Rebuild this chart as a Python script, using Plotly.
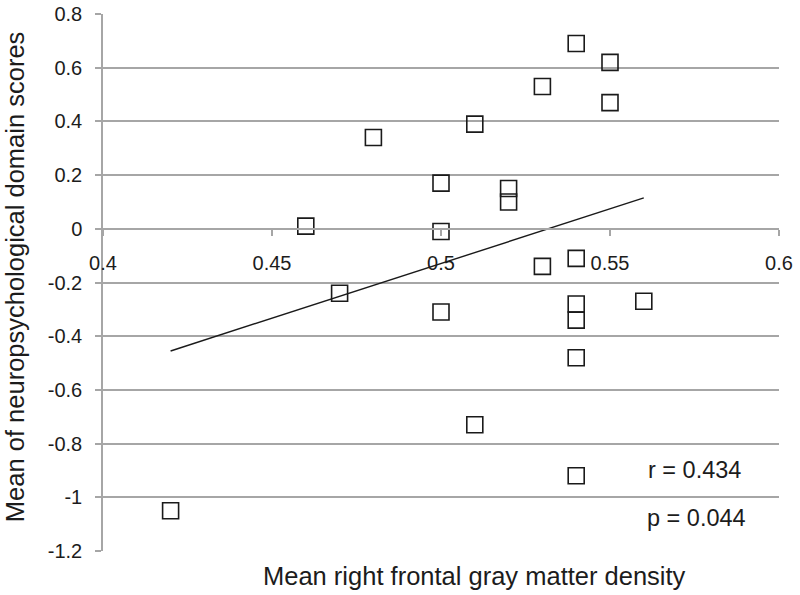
import plotly.graph_objects as go

# Data
density = [0.48, 0.46, 0.47, 0.54, 0.55, 0.53, 0.55, 0.51, 0.50, 0.52, 0.52,
           0.50, 0.53, 0.54, 0.54, 0.54, 0.56, 0.50, 0.54, 0.51, 0.54, 0.42]
scores = [0.34, 0.01, -0.24, 0.69, 0.62, 0.53, 0.47, 0.39, 0.17, 0.15, 0.10,
          -0.01, -0.14, -0.11, -0.28, -0.34, -0.27, -0.31, -0.48, -0.73, -0.92, -1.05]
trend_x = [0.42, 0.56]
trend_y = [-0.455, 0.115]
x_ticks = [0.4, 0.45, 0.5, 0.55, 0.6]
x_ticklabels = ["0.4", "0.45", "0.5", "0.55", "0.6"]
y_ticks = [0.8, 0.6, 0.4, 0.2, 0, -0.2, -0.4, -0.6, -0.8, -1, -1.2]
y_ticklabels = ["0.8", "0.6", "0.4", "0.2", "0", "-0.2", "-0.4", "-0.6", "-0.8", "-1", "-1.2"]
stats_text = ["r = 0.434", "p = 0.044"]

FONT = "Liberation Sans, Arial, sans-serif"
TXT = "#1c1c1c"
GRID = "#a6a6a6"

fig = go.Figure()
fig.add_trace(go.Scatter(
    x=density, y=scores, mode="markers",
    marker=dict(symbol="square-open", size=16, color="#1a1a1a",
                line=dict(width=1.6, color="#1a1a1a")),
    showlegend=False, hoverinfo="skip"))
fig.add_trace(go.Scatter(
    x=trend_x, y=trend_y, mode="lines",
    line=dict(color="#1a1a1a", width=1.4),
    showlegend=False, hoverinfo="skip"))

fig.update_layout(
    width=800, height=595,
    margin=dict(l=103, r=21, t=14, b=44),
    paper_bgcolor="white", plot_bgcolor="white",
    font=dict(family=FONT, color=TXT, size=20),
    xaxis=dict(range=[0.4, 0.6], tickvals=x_ticks, ticktext=x_ticklabels,
               showgrid=False, zeroline=False, showline=True, linecolor=GRID,
               linewidth=1.5, ticks="outside", ticklen=6, tickcolor=GRID,
               tickwidth=1.5, anchor="free", position=0.6, automargin=False,
               ticklabelstandoff=10, tickfont=dict(size=20, color=TXT)),
    yaxis=dict(range=[-1.2, 0.8], tickvals=y_ticks, ticktext=y_ticklabels,
               showgrid=True, gridcolor=GRID, gridwidth=1.5, zeroline=False,
               showline=True, linecolor=GRID, linewidth=1.5, ticks="outside",
               ticklen=6, tickcolor=GRID, tickwidth=1.5, automargin=False,
               ticklabelstandoff=9, tickfont=dict(size=20, color=TXT)),
    annotations=[
        dict(text="Mean right frontal gray matter density", xref="paper", yref="paper",
             x=0.550, y=0, xanchor="center", yanchor="middle", yshift=-25,
             showarrow=False, font=dict(size=25.5, color=TXT, family=FONT)),
        dict(text="Mean of neuropsychological domain scores", xref="paper", yref="paper",
             x=0, y=0.510, xanchor="center", yanchor="middle", xshift=-88,
             textangle=-90, showarrow=False, font=dict(size=25.5, color=TXT, family=FONT)),
        dict(text=stats_text[0], xref="x", yref="y", x=0.575, y=-0.899,
             xanchor="center", yanchor="middle", showarrow=False,
             font=dict(size=23.5, color=TXT, family=FONT)),
        dict(text=stats_text[1], xref="x", yref="y", x=0.5755, y=-1.078,
             xanchor="center", yanchor="middle", showarrow=False,
             font=dict(size=23.5, color=TXT, family=FONT)),
    ],
)

fig.write_html("out.html", config={"displayModeBar": False},
               post_script="document.body.style.margin='0';")
